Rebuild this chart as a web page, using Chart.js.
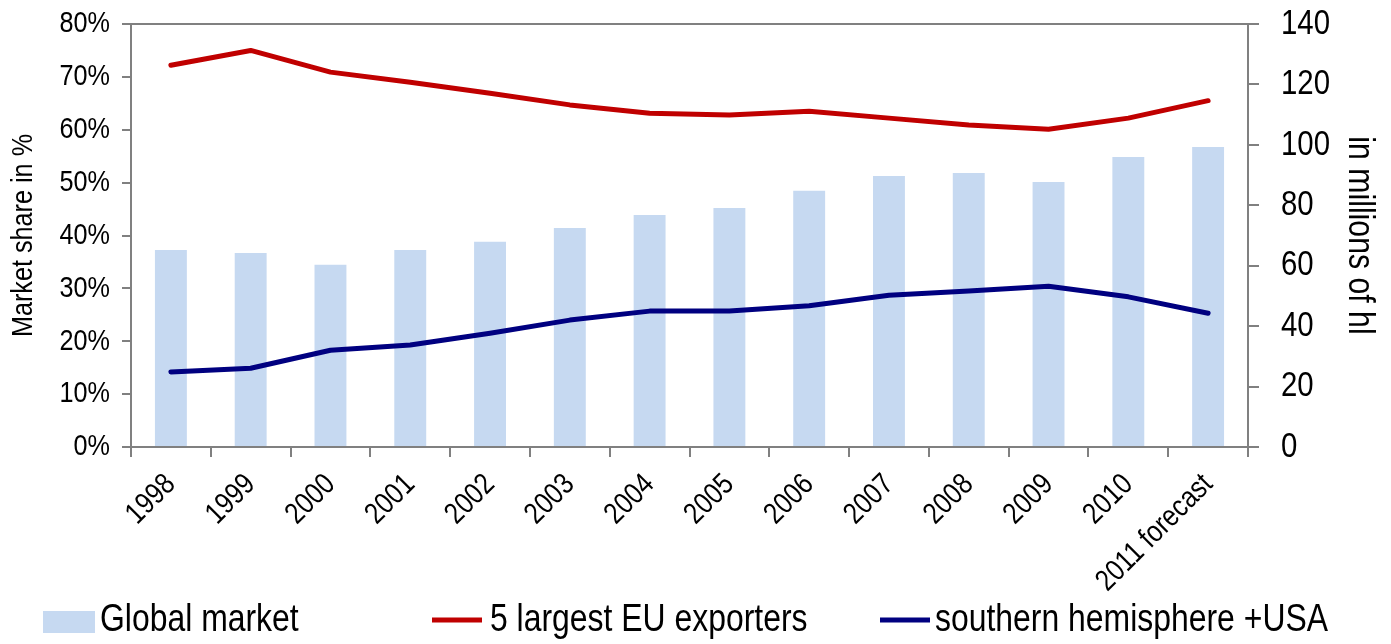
<!DOCTYPE html>
<html>
<head>
<meta charset="utf-8">
<script src="https://cdn.jsdelivr.net/npm/chart.js@4.4.0/dist/chart.umd.min.js"></script>
<style>
  html, body { margin: 0; padding: 0; background: #fff; }
  #wrap { width: 1391px; height: 644px; }
</style>
</head>
<body>
<div id="wrap"><canvas id="chart" width="1391" height="644"></canvas></div>
<script>
const years = ['1998', '1999', '2000', '2001', '2002', '2003', '2004', '2005', '2006', '2007', '2008', '2009', '2010', '2011 forecast']
// millions of hl (right axis)
const globalMarket = [65.2, 64.2, 60.3, 65.2, 67.9, 72.5, 76.8, 79.1, 84.8, 89.7, 90.7, 87.7, 96.0, 99.3]
// market share in % (left axis)
const eu5Exporters = [72.2, 75.0, 70.9, 69.0, 66.9, 64.7, 63.1, 62.8, 63.5, 62.2, 60.9, 60.1, 62.2, 65.5]
const southUsa = [14.2, 14.9, 18.3, 19.3, 21.5, 24.0, 25.7, 25.7, 26.7, 28.7, 29.5, 30.4, 28.4, 25.3]
const seriesNames = ['Global market', '5 largest EU exporters', 'southern hemisphere +USA']

const FONT = "'Liberation Sans', Arial, sans-serif"
const axisGrey = '#808080'
const NARROW = 0.84 // the original uses a narrow face, squeeze text along its baseline

const ctx = document.getElementById('chart').getContext('2d')
const rawFill = ctx.fillText.bind(ctx)
const rawMeasure = ctx.measureText.bind(ctx)
ctx.fillText = function (text, x, y) {
  this.save()
  this.translate(x, y)
  this.scale(NARROW, 1)
  rawFill(text, 0, 0)
  this.restore()
}
ctx.measureText = function (text) {
  const m = rawMeasure(text)
  return {
    width: m.width * NARROW,
    actualBoundingBoxAscent: m.actualBoundingBoxAscent,
    actualBoundingBoxDescent: m.actualBoundingBoxDescent,
    actualBoundingBoxLeft: m.actualBoundingBoxLeft * NARROW,
    actualBoundingBoxRight: m.actualBoundingBoxRight * NARROW
  }
}

// legend drawn by hand so the spacing matches the original
const bottomLegend = {
  id: 'bottomLegend',
  afterDraw(chart) {
    const c = chart.ctx
    const ds = chart.data.datasets
    const items = [
      { idx: 2, x: 43, text: 100 },
      { idx: 0, x: 432, text: 490 },
      { idx: 1, x: 880, text: 935 }
    ]
    c.save()
    c.font = '38px ' + FONT
    c.textBaseline = 'alphabetic'
    c.textAlign = 'left'
    items.forEach(it => {
      const d = ds[it.idx]
      if (d.type === 'bar') {
        c.fillStyle = d.backgroundColor
        c.fillRect(it.x, 611, 52, 22)
      } else {
        c.strokeStyle = d.borderColor
        c.lineWidth = 5
        c.beginPath()
        c.moveTo(it.x, 620)
        c.lineTo(it.x + 50, 620)
        c.stroke()
      }
      c.fillStyle = '#000'
      c.fillText(d.label, it.text, 631)
    })
    c.restore()
  }
}

// top edge of the plot frame
const frameTop = {
  id: 'frameTop',
  afterDraw(chart) {
    const a = chart.chartArea
    const c = chart.ctx
    c.save()
    c.strokeStyle = axisGrey
    c.lineWidth = 2
    c.beginPath()
    c.moveTo(a.left, a.top)
    c.lineTo(a.right, a.top)
    c.stroke()
    c.restore()
  }
}

function fixY(width) {
  return scale => {
    scale.width = width
    scale.paddingTop = 0
    scale.paddingBottom = 0
  }
}

new Chart(ctx, {
  data: {
    labels: years,
    datasets: [
      {
        type: 'line',
        label: seriesNames[1],
        data: eu5Exporters,
        yAxisID: 'yShare',
        borderColor: '#C00000',
        borderWidth: 5,
        pointRadius: 0,
        tension: 0,
        borderCapStyle: 'round',
        borderJoinStyle: 'round',
        order: 1
      },
      {
        type: 'line',
        label: seriesNames[2],
        data: southUsa,
        yAxisID: 'yShare',
        borderColor: '#000080',
        borderWidth: 5,
        pointRadius: 0,
        tension: 0,
        borderCapStyle: 'round',
        borderJoinStyle: 'round',
        order: 1
      },
      {
        type: 'bar',
        label: seriesNames[0],
        data: globalMarket,
        yAxisID: 'yVolume',
        backgroundColor: '#C6D9F1',
        categoryPercentage: 0.8,
        barPercentage: 0.5,
        order: 2
      }
    ]
  },
  options: {
    responsive: false,
    animation: false,
    layout: { padding: { top: 24, bottom: 50, left: 0, right: 0 } },
    plugins: {
      legend: { display: false },
      tooltip: { enabled: false }
    },
    scales: {
      x: {
        offset: true,
        grid: { display: true, drawOnChartArea: false, offset: true, tickLength: 10, color: axisGrey, lineWidth: 2 },
        border: { color: axisGrey, width: 2 },
        ticks: {
          color: '#000',
          font: { family: FONT, size: 30 },
          minRotation: 45,
          maxRotation: 45,
          padding: 10
        },
        afterFit(scale) { scale.height = 147 }
      },
      yShare: {
        position: 'left',
        min: 0,
        max: 80,
        grid: { drawOnChartArea: false, tickLength: 9, color: axisGrey, lineWidth: 2 },
        border: { color: axisGrey, width: 2 },
        ticks: {
          stepSize: 10,
          color: '#000',
          font: { family: FONT, size: 30 },
          padding: 12,
          callback: v => v + '%'
        },
        title: {
          display: true,
          text: 'Market share in %',
          color: '#000',
          font: { family: FONT, size: 30 },
          padding: 6
        },
        afterFit: fixY(131)
      },
      yVolume: {
        position: 'right',
        min: 0,
        max: 140,
        grid: { drawOnChartArea: false, tickLength: 11, color: axisGrey, lineWidth: 2 },
        border: { color: axisGrey, width: 2 },
        ticks: {
          stepSize: 20,
          color: '#000',
          font: { family: FONT, size: 35 },
          padding: 22
        },
        title: {
          display: true,
          text: 'in millions of hl',
          color: '#000',
          font: { family: FONT, size: 36 },
          padding: 10
        },
        afterFit: fixY(143)
      }
    }
  },
  plugins: [frameTop, bottomLegend]
})
</script>
</body>
</html>
